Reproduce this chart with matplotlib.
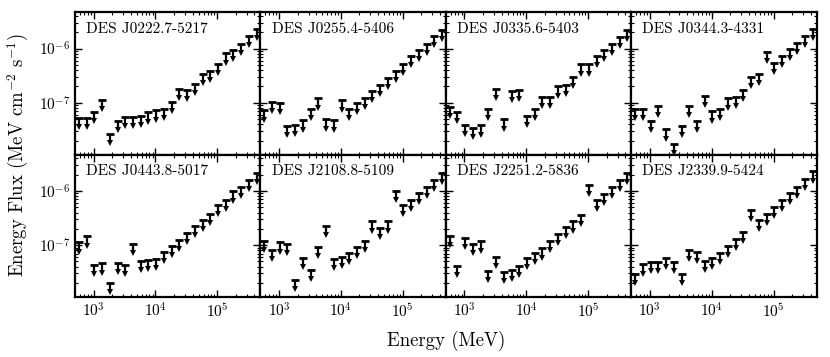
import numpy as np
import matplotlib
matplotlib.use('Agg')
import matplotlib.pyplot as plt

plt.rcParams['font.family'] = 'serif'
plt.rcParams['font.serif'] = ['cmr10']
plt.rcParams['mathtext.fontset'] = 'cm'
plt.rcParams['axes.unicode_minus'] = False
plt.rcParams['axes.formatter.use_mathtext'] = True

# bin centres (MeV), 8 bins per decade from 500 MeV to 500 GeV
energy = [577, 770, 1027, 1369, 1826, 2435, 3247, 4330, 5774, 7700,
          10268, 13693, 18260, 24350, 32472, 43301, 57744, 77003,
          102685, 136933, 182603, 243505, 324720, 433021]

names = ['DES J0222.7-5217', 'DES J0255.4-5406', 'DES J0335.6-5403', 'DES J0344.3-4331',
         'DES J0443.8-5017', 'DES J2108.8-5109', 'DES J2251.2-5836', 'DES J2339.9-5424']

# 95% upper limits on energy flux (MeV cm^-2 s^-1)
ul_j0222 = [5.25e-8, 5.25e-8, 6.8e-8, 1.12e-7, 2.66e-8, 4.6e-8, 5.5e-8, 5.5e-8, 5.75e-8, 6.6e-8,
            7.2e-8, 7.8e-8, 1.02e-7, 1.82e-7, 1.74e-7, 2.19e-7, 3.4e-7, 3.9e-7, 5.2e-7, 8.1e-7,
            9.3e-7, 1.23e-6, 1.74e-6, 2.3e-6]
ul_j0255 = [7.2e-8, 1.05e-7, 9.8e-8, 3.7e-8, 3.9e-8, 4.7e-8, 7.6e-8, 1.2e-7, 4.9e-8, 4.7e-8,
            1.1e-7, 7.6e-8, 9.8e-8, 1.23e-7, 1.66e-7, 2.14e-7, 2.9e-7, 3.8e-7, 5.2e-7, 7.2e-7,
            9.3e-7, 1.23e-6, 1.7e-6, 2.24e-6]
ul_j0335 = [8.3e-8, 6.8e-8, 3.9e-8, 3.4e-8, 3.8e-8, 7.8e-8, 1.82e-7, 4.9e-8, 1.66e-7, 1.74e-7,
            5.75e-8, 7.6e-8, 1.29e-7, 1.29e-7, 2.0e-7, 2.14e-7, 2.95e-7, 5.1e-7, 5.1e-7, 7.2e-7,
            9.3e-7, 1.2e-6, 1.66e-6, 2.19e-6]
ul_j0344 = [7.6e-8, 7.6e-8, 4.6e-8, 8.7e-8, 3.2e-8, 1.74e-8, 3.7e-8, 8.7e-8, 4.6e-8, 1.35e-7,
            6.9e-8, 7.8e-8, 1.2e-7, 1.29e-7, 1.74e-7, 2.95e-7, 3.4e-7, 8.7e-7, 5.5e-7, 7.2e-7,
            9.8e-7, 1.29e-6, 1.74e-6, 2.3e-6]
ul_j0443 = [1.12e-7, 1.45e-7, 4.3e-8, 4.6e-8, 2.0e-8, 4.7e-8, 4.3e-8, 1.05e-7, 5.1e-8, 5.4e-8,
            5.6e-8, 7.6e-8, 9.8e-8, 1.26e-7, 1.66e-7, 2.3e-7, 2.95e-7, 3.8e-7, 5.6e-7, 6.8e-7,
            9.8e-7, 1.2e-6, 1.62e-6, 2.19e-6]
ul_j2108 = [1.2e-7, 8.1e-8, 1.12e-7, 1.07e-7, 2.3e-8, 5.75e-8, 3.5e-8, 9.3e-8, 2.24e-7, 5.6e-8,
            6.0e-8, 7.2e-8, 9.3e-8, 1.2e-7, 2.75e-7, 2.1e-7, 2.75e-7, 1.0e-6, 5.5e-7, 6.8e-7,
            9.1e-7, 1.2e-6, 1.62e-6, 2.19e-6]
ul_j2251 = [1.48e-7, 4.1e-8, 1.35e-7, 1.05e-7, 1.17e-7, 3.3e-8, 6.0e-8, 3.2e-8, 3.5e-8, 4.1e-8,
            5.75e-8, 7.2e-8, 8.7e-8, 1.2e-7, 1.62e-7, 2.14e-7, 2.75e-7, 3.6e-7, 1.29e-6, 6.8e-7,
            8.7e-7, 1.2e-6, 1.62e-6, 2.14e-6]
ul_j2339 = [2.9e-8, 4.4e-8, 4.9e-8, 4.9e-8, 5.9e-8, 4.9e-8, 2.9e-8, 8.3e-8, 7.6e-8, 5.1e-8,
            5.9e-8, 7.2e-8, 9.8e-8, 1.29e-7, 1.74e-7, 4.4e-7, 2.9e-7, 3.8e-7, 5.1e-7, 6.8e-7,
            9.1e-7, 1.2e-6, 1.66e-6, 2.3e-6]

limits = [ul_j0222, ul_j0255, ul_j0335, ul_j0344, ul_j0443, ul_j2108, ul_j2251, ul_j2339]

fig, axes = plt.subplots(2, 4, figsize=(8.3, 3.57), dpi=100, sharex=True, sharey=True)
fig.subplots_adjust(left=0.0904, right=0.984, top=0.966, bottom=0.168, wspace=0, hspace=0)

E = np.array(energy)
for ax, name, ul in zip(axes.flat, names, limits):
    ul = np.array(ul)
    low = ul * 10**-0.17
    ax.vlines(E, low, ul, color='k', lw=1.6)
    ax.plot(E, ul, '_', color='k', ms=6, mew=2)
    ax.plot(E, low, 'v', color='k', ms=4.5, mew=0)
    ax.set_xscale('log')
    ax.set_yscale('log')
    ax.set_xlim(500, 5e5)
    ax.set_ylim(1.1e-8, 4.7e-6)
    ax.tick_params(which='both', direction='in', top=True, right=True, labelsize=11)
    ax.tick_params(which='major', length=5, width=1)
    ax.tick_params(which='minor', length=2.5, width=0.8)
    for s in ax.spines.values():
        s.set_linewidth(1.6)
    ax.text(0.06, 0.93, name, transform=ax.transAxes, ha='left', va='top', fontsize=11)

fig.text(0.022, 0.567, r'Energy Flux (MeV cm$^{-2}$ s$^{-1}$)', rotation=90,
         ha='center', va='center', fontsize=13.5)
fig.text(0.537, 0.045, 'Energy (MeV)', ha='center', va='center', fontsize=13.5)

plt.savefig('out.png', dpi=100)
